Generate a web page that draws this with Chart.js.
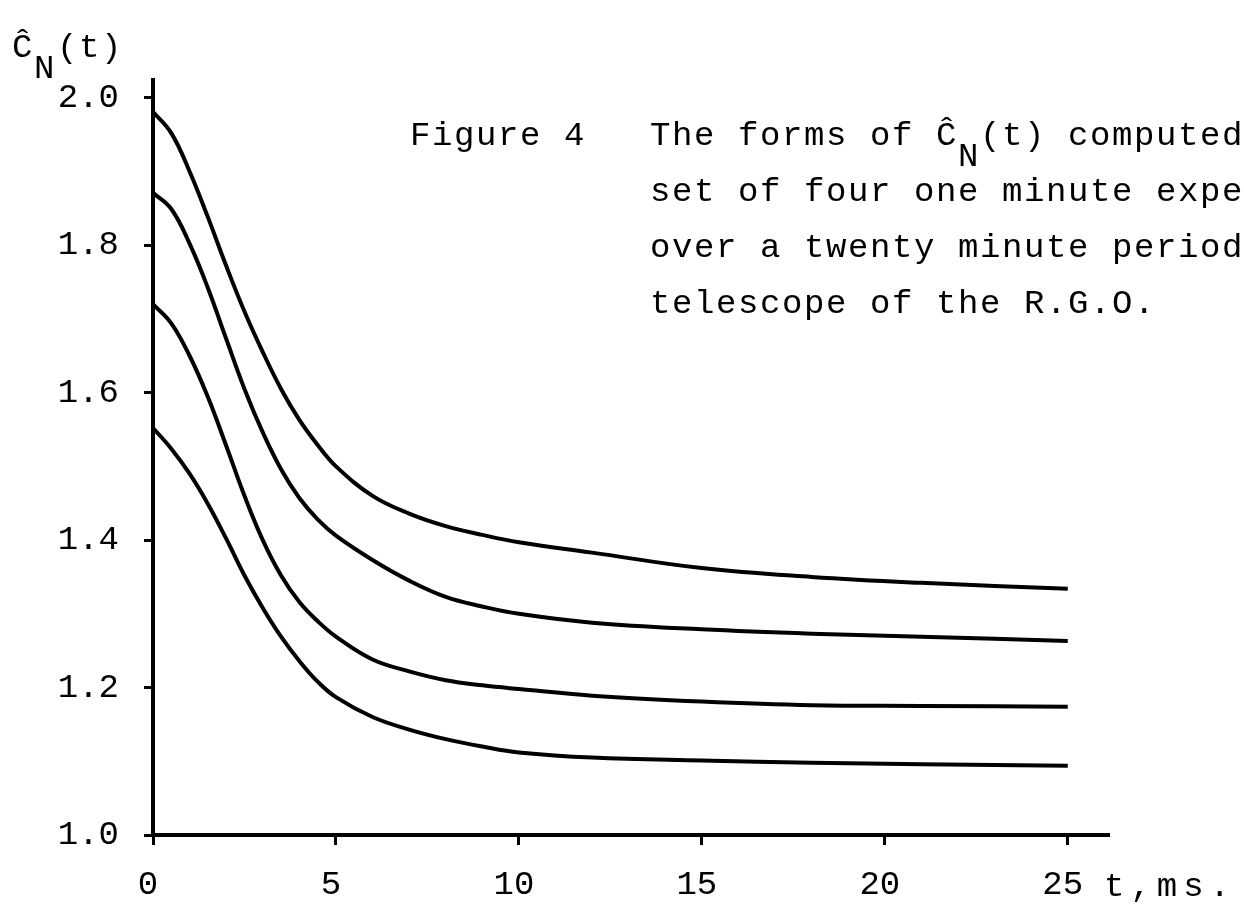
<!DOCTYPE html>
<html lang="en">
<head>
    <meta charset="UTF-8">
    <title>Figure 4</title>
    <script src="https://cdn.jsdelivr.net/npm/chart.js"></script>
    <style>
        body { margin: 0; background: #fff; }
        #wrap { width: 1244px; height: 907px; position: relative; }
    </style>
</head>
<body>
    <div id="wrap">
        <canvas id="myChart"></canvas>
    </div>

    <script>
        // time axis (ms) shared by the four curves
        const tValues = [0, 0.5, 1, 1.5, 2, 2.5, 3, 3.5, 4, 4.5, 5, 6, 7, 8, 9, 10, 12, 15, 18, 21, 25];

        // C_N(t) for the four one-minute experiments, top to bottom
        const run1 = [1.981, 1.952, 1.900, 1.838, 1.772, 1.710, 1.655, 1.605, 1.563, 1.529, 1.500, 1.460, 1.436, 1.419, 1.407, 1.397, 1.383, 1.362, 1.350, 1.342, 1.334];
        const run2 = [1.871, 1.849, 1.802, 1.742, 1.673, 1.605, 1.546, 1.496, 1.457, 1.428, 1.406, 1.373, 1.345, 1.323, 1.310, 1.300, 1.288, 1.279, 1.273, 1.269, 1.263];
        const run3 = [1.720, 1.694, 1.650, 1.594, 1.528, 1.460, 1.400, 1.352, 1.316, 1.290, 1.269, 1.238, 1.222, 1.210, 1.203, 1.198, 1.189, 1.181, 1.176, 1.175, 1.174];
        const run4 = [1.552, 1.524, 1.490, 1.449, 1.402, 1.352, 1.308, 1.269, 1.236, 1.208, 1.187, 1.160, 1.143, 1.130, 1.120, 1.112, 1.105, 1.101, 1.098, 1.096, 1.094];

        const xTicks = [0, 5, 10, 15, 20, 25];
        const yTicks = [1.0, 1.2, 1.4, 1.6, 1.8, 2.0];

        const captionLines = [
            'set of four one minute exper',
            'over a twenty minute period',
            'telescope of the R.G.O.'
        ];

        const FAMILY = '"Liberation Mono", "DejaVu Sans Mono", monospace';
        const FONT = '34px ' + FAMILY;

        function toPoints(ys) {
            return tValues.map((t, i) => ({ x: t, y: ys[i] }));
        }

        function lineSet(ys) {
            return {
                data: toPoints(ys),
                borderColor: '#000',
                borderWidth: 4,
                pointRadius: 0,
                fill: false,
                tension: 0.4
            };
        }

        // draw text piece by piece, returns the x after it
        function seg(ctx, text, x, y) {
            ctx.fillText(text, x, y);
            return x + ctx.measureText(text).width;
        }

        const textPlugin = {
            id: 'textPlugin',
            afterDraw(chart) {
                const ctx = chart.ctx;
                ctx.save();
                ctx.font = FONT;
                ctx.fillStyle = '#000';
                ctx.textAlign = 'left';
                ctx.textBaseline = 'alphabetic';
                ctx.letterSpacing = '1.6px';

                // y axis title  C^_N(t)
                seg(ctx, 'Ĉ', 12, 57);
                seg(ctx, 'N', 34, 78);
                seg(ctx, '(t)', 57, 57);

                // caption
                seg(ctx, 'Figure 4', 410, 145);
                let x = seg(ctx, 'The forms of Ĉ', 650, 145);
                x = seg(ctx, 'N', x, 166);
                seg(ctx, '(t) computed', x, 145);
                captionLines.forEach((line, i) => {
                    seg(ctx, line, 650, 201 + i * 56);
                });

                // x axis title
                ctx.letterSpacing = '6px';
                seg(ctx, 't,ms.', 1104, 896);
                ctx.restore();
            }
        };

        const ctx = document.getElementById('myChart');
        new Chart(ctx, {
            type: 'line',
            data: {
                datasets: [lineSet(run1), lineSet(run2), lineSet(run3), lineSet(run4)]
            },
            options: {
                responsive: true,
                maintainAspectRatio: false,
                animation: false,
                layout: { padding: { left: 0, top: 80, right: 136, bottom: 0 } },
                plugins: {
                    legend: { display: false },
                    tooltip: { enabled: false }
                },
                scales: {
                    x: {
                        type: 'linear',
                        min: 0,
                        max: 26.1,
                        afterBuildTicks: (s) => { s.ticks = xTicks.map(v => ({ value: v })); },
                        afterFit: (s) => { s.height = 72; },
                        border: { display: true, color: '#000', width: 4 },
                        grid: { drawOnChartArea: false, drawTicks: true, tickLength: 10, color: '#000', lineWidth: 3 },
                        ticks: {
                            color: '#000',
                            font: { family: FAMILY, size: 34 },
                            padding: 20,
                            labelOffset: -5,
                            maxRotation: 0,
                            callback: (v) => String(v)
                        }
                    },
                    y: {
                        type: 'linear',
                        min: 1.0,
                        max: 2.024,
                        afterBuildTicks: (s) => { s.ticks = yTicks.map(v => ({ value: v })); },
                        afterFit: (s) => { s.width = 153; },
                        border: { display: true, color: '#000', width: 4 },
                        grid: { drawOnChartArea: false, drawTicks: true, tickLength: 9, color: '#000', lineWidth: 3 },
                        ticks: {
                            color: '#000',
                            font: { family: FAMILY, size: 34 },
                            padding: 25,
                            callback: (v) => Number(v).toFixed(1)
                        }
                    }
                }
            },
            plugins: [textPlugin]
        });
    </script>
</body>
</html>
